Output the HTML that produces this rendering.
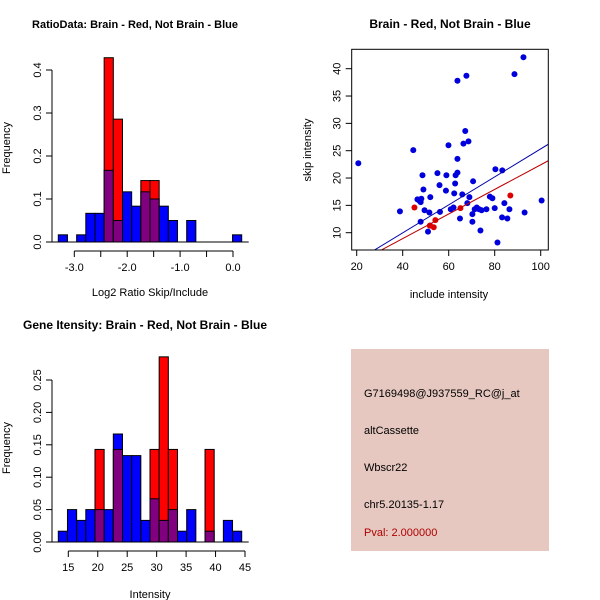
<!DOCTYPE html>
<html><head><meta charset="utf-8"><style>
body{margin:0;background:#fff}
svg{display:block;font-family:"Liberation Sans",sans-serif}
</style></head><body>
<svg id="c" width="600" height="600" xmlns="http://www.w3.org/2000/svg">
<rect x="351" y="349" width="198" height="202" fill="#e6c8c1"/>
<g font-size="11" fill="#000">
<text x="364" y="397">G7169498@J937559_RC@j_at</text>
<text x="364" y="434">altCassette</text>
<text x="364" y="471">Wbscr22</text>
<text x="364" y="508">chr5.20135-1.17</text>
<text x="364" y="536" fill="#b00000">Pval: 2.000000</text>
</g>
</svg>
<script>
// ---- Ratio histogram data ----
const ratioBlue=[1,0,1,4,4,10,3,7,5,7,6,5,3,0,3,0,0,0,0,1];
const ratioRed=[0,0,0,0,0,3,2,0,0,1,1,0,0,0,0,0,0,0,0,0];
const ratioTicks=[-3,-2.5,-2,-1.5,-1,-0.5,0];
const ratioLabels=["-3.0","-2.0","-1.0","0.0"];
const ratioYTicks=[0,0.1,0.2,0.3,0.4];
// ---- Intensity histogram data ----
const intBlue=[1,3,2,3,3,3,10,8,8,2,4,2,3,1,3,0,1,0,2,1];
const intRed=[0,0,0,0,1,0,1,0,0,0,1,2,1,0,0,0,1,0,0,0];
const intTicks=[15,20,25,30,35,40,45];
const intYTicks=[0,0.05,0.10,0.15,0.20,0.25];
const intYLabels=["0.00","0.05","0.10","0.15","0.20","0.25"];
// ---- Scatter data ----
const blueX=[20.7,38.8,44.6,46.4,47.2,47.8,48.1,47.8,48.6,49.0,49.5,51.6,52.0,51.0,51.9,55.1,56.0,56.2,59.0,58.8,59.9,60.9,62.1,62.4,62.8,63.0,63.8,63.8,63.8,64.9,65.9,66.4,67.2,67.7,68.6,68.1,69.0,70.6,70.3,70.3,71.3,72.2,73.2,73.8,74.3,76.4,77.9,79.0,80.0,80.3,81.2,83.3,83.2,84.2,85.5,86.4,88.6,92.5,93.0,100.4];
const blueY=[22.7,13.9,25.1,16.1,15.9,15.6,16.2,12.0,20.5,17.9,14.1,13.7,16.5,10.2,11.3,20.9,18.7,13.8,20.5,17.7,26.0,14.3,14.6,17.2,19.0,20.5,21.0,23.5,37.8,12.6,17.0,26.3,28.6,38.7,26.7,15.4,16.5,19.4,13.4,12.0,14.3,14.6,14.3,10.4,14.1,14.3,16.6,16.3,14.5,21.6,8.2,21.4,12.8,15.4,12.6,14.3,39.0,42.1,13.7,15.9];
const redX=[45.1,54.2,53.5,65.1,86.8,51.8];
const redY=[14.6,12.3,11.0,14.5,16.8,11.3];
const blueFit=[-0.27,0.256];
const redFit=[-0.08,0.225];
const scXTicks=[20,40,60,80,100];
const scYTicks=[10,15,20,25,30,35,40];

const NS="http://www.w3.org/2000/svg";
const svg=document.getElementById('c');
function el(t,a,p){const e=document.createElementNS(NS,t);for(const k in a)e.setAttribute(k,a[k]);(p||svg).appendChild(e);return e;}
function txt(x,y,s,a){const e=el('text',Object.assign({x:x,y:y,'text-anchor':'middle','font-size':11},a||{}));e.textContent=s;return e;}

function hist(o){
  const g=el('g',{});
  
  
  const nb=o.blue.length, sb=o.blue.reduce((a,b)=>a+b,0), sr=o.red.reduce((a,b)=>a+b,0);
  const ys=v=>o.y0-v*o.ypx;
  for(let i=0;i<nb;i++){
    const fb=o.blue[i]/sb, fr=o.red[i]/sr, x=o.x0+i*o.bw;
    const draw=(f,c,n)=>{if(f<=0)return;const r=el('rect',{x:x,y:ys(f),width:o.bw,height:f*o.ypx,fill:c,stroke:'#000','stroke-width':1},g);
      
      };
    if(fb>0&&fr>0){
      if(fb>=fr){draw(fb,'#0000ff','bar-blue-'+i);draw(fr,'#800080','bar-overlap-'+i);}
      else{draw(fr,'#ff0000','bar-red-'+i);draw(fb,'#800080','bar-overlap-'+i);}
    } else {draw(fb,'#0000ff','bar-blue-'+i);draw(fr,'#ff0000','bar-red-'+i);}
  }
  const ya=el('g',{stroke:'#000','stroke-width':1});
  
  
  el('line',{x1:o.ax,x2:o.ax,y1:ys(o.yt[0]),y2:ys(o.yt[o.yt.length-1])},ya);
  o.yt.forEach((v,i)=>{el('line',{x1:o.ax-6,x2:o.ax,y1:ys(v),y2:ys(v)},ya);
    const t=txt(o.ax-15,ys(v)+4,o.yl[i],{transform:`rotate(-90 ${o.ax-15} ${ys(v)})`,stroke:'none'});
    
    });
  const xs=v=>o.xa+(v-o.xv0)*o.xpx;
  const xa=el('g',{stroke:'#000','stroke-width':1});
  
  
  el('line',{x1:xs(o.xt[0]),x2:xs(o.xt[o.xt.length-1]),y1:o.axy,y2:o.axy},xa);
  o.xt.forEach(v=>el('line',{x1:xs(v),x2:xs(v),y1:o.axy,y2:o.axy+6},xa));
  o.xlabs.forEach(([v,s])=>{const t=txt(xs(v),o.axy+20,s);
    
    });
  el('line',{x1:o.x0-7,x2:o.x0+nb*o.bw+7,y1:o.y0,y2:o.y0,stroke:'#000'},g);
}

hist({name:'ratio-histogram',blue:ratioBlue,red:ratioRed,x0:58.3,bw:9.17,y0:242,ypx:430,ax:52,
  yt:ratioYTicks,yl:ratioYTicks.map(v=>v.toFixed(1)),xa:74.3,xv0:-3,xpx:52.9,xt:ratioTicks,axy:251,
  xlabs:[[-3,ratioLabels[0]],[-2,ratioLabels[1]],[-1,ratioLabels[2]],[0,ratioLabels[3]]]});
hist({name:'intensity-histogram',blue:intBlue,red:intRed,x0:58.3,bw:9.17,y0:542,ypx:648,ax:52,
  yt:intYTicks,yl:intYLabels,xa:68.3,xv0:15,xpx:5.89,xt:intTicks,axy:551,
  xlabs:intTicks.map(v=>[v,String(v)])});

let t;
t=txt(135,28,'RatioData: Brain - Red, Not Brain - Blue',{'font-weight':'bold','font-size':11});

t=txt(150,296,'Log2 Ratio Skip/Include');

t=txt(10,148,'Frequency',{transform:'rotate(-90 10 148)'});

t=txt(145,329,'Gene Itensity: Brain - Red, Not Brain - Blue',{'font-weight':'bold','font-size':12});

t=txt(150,598,'Intensity');

t=txt(10,448,'Frequency',{transform:'rotate(-90 10 448)'});


const L=351.7,R=548.3,T=49.3,B=250;
const sx=v=>356.7+(v-20)*2.3, sy=v=>232.7-(v-10)*5.467;
const sg=el('g',{});


const cp=el('clipPath',{id:'clp'},sg);
el('rect',{x:L,y:T,width:R-L,height:B-T},cp);
blueX.forEach((x,i)=>{const c=el('circle',{cx:sx(x),cy:sy(blueY[i]),r:3,fill:'#0000dd'},sg);
  
  });
redX.forEach((x,i)=>{const c=el('circle',{cx:sx(x),cy:sy(redY[i]),r:3,fill:'#dd0000'},sg);
  
  });
[[blueFit,'#0000aa','fit-line-blue'],[redFit,'#bb0000','fit-line-red']].forEach(([f,c,n])=>{
  const l=el('line',{x1:sx(0),y1:sy(f[0]),x2:sx(120),y2:sy(f[0]+f[1]*120),stroke:c,'stroke-width':1,'clip-path':'url(#clp)'},sg);
  
  });
const box=el('rect',{x:L,y:T,width:R-L,height:B-T,fill:'none',stroke:'#000'},sg);


scXTicks.forEach(v=>{el('line',{x1:sx(v),x2:sx(v),y1:B,y2:B+6,stroke:'#000'});
  const t=txt(sx(v),B+20,String(v));
  
  });
scYTicks.forEach(v=>{el('line',{x1:L-6,x2:L,y1:sy(v),y2:sy(v),stroke:'#000'});
  const t=txt(L-15,sy(v)+4,String(v),{transform:`rotate(-90 ${L-15} ${sy(v)})`});
  
  });
t=txt(450,28,'Brain - Red, Not Brain - Blue',{'font-weight':'bold','font-size':12});

t=txt(449,298,'include intensity');

t=txt(311,150,'skip intensity',{transform:'rotate(-90 311 150)'});

</script>
</body></html>
